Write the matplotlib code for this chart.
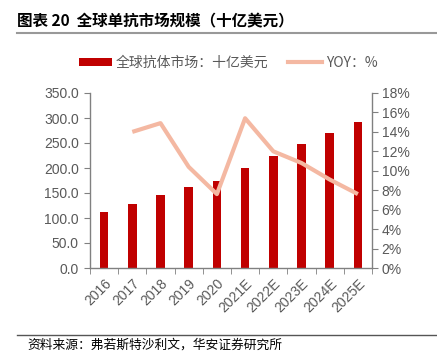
import matplotlib
matplotlib.use("Agg")
import matplotlib.pyplot as plt
from matplotlib.lines import Line2D
from matplotlib.patches import Patch
from matplotlib.ticker import FuncFormatter, MultipleLocator, FixedLocator

plt.rcParams['font.family'] = ['Liberation Sans', 'Noto Sans CJK SC', 'DejaVu Sans']

years = ["2016", "2017", "2018", "2019", "2020", "2021E", "2022E", "2023E", "2024E", "2025E"]
market = [112, 128, 147, 162, 175, 201, 225, 249, 271, 293]
yoy_years = ["2017", "2018", "2019", "2020", "2021E", "2022E", "2023E", "2024E", "2025E"]
yoy = [14.0, 14.9, 10.4, 7.6, 15.4, 12.0, 10.8, 9.1, 7.6]

W, H = 437, 354
fig = plt.figure(figsize=(W / 100, H / 100), dpi=100)

L, R, T, B = 90, 372, 93, 268
ax = fig.add_axes([L / W, 1 - B / H, (R - L) / W, (B - T) / H])
ax2 = ax.twinx()

bar_color = "#C00000"
line_color = "#F4B8A2"
tick_color = "#595959"
spine_color = "#808080"

x = list(range(len(years)))
ax.bar(x, market, width=0.3, color=bar_color, zorder=2)
xi = [years.index(y) for y in yoy_years]
ax2.plot(xi, yoy, color=line_color, lw=3, solid_capstyle='butt', zorder=3)

ax.set_xlim(-0.5, len(years) - 0.5)
ax.set_ylim(0, 350)
ax2.set_ylim(0, 18)
ax.yaxis.set_major_locator(MultipleLocator(50))
ax.yaxis.set_major_formatter(FuncFormatter(lambda v, p: f"{v:.1f}"))
ax2.yaxis.set_major_locator(MultipleLocator(2))
ax2.yaxis.set_major_formatter(FuncFormatter(lambda v, p: f"{v:.0f}%"))

ax.set_xticks(x)
ax.set_xticklabels(years, rotation=45, ha='right', rotation_mode='anchor')
ax.xaxis.set_minor_locator(FixedLocator([i - 0.5 for i in range(len(years) + 1)]))
ax.tick_params(axis='x', which='major', length=0, pad=6, labelsize=10, labelcolor=tick_color)
ax.tick_params(axis='x', which='minor', length=4, color=spine_color, direction='out')
ax.tick_params(axis='y', length=4, color=spine_color, labelsize=10, labelcolor=tick_color, pad=4)
ax2.tick_params(axis='y', length=4, color=spine_color, labelsize=10, labelcolor=tick_color, pad=3)

for a in (ax, ax2):
    a.spines['top'].set_visible(False)
    for s in ('left', 'right', 'bottom'):
        a.spines[s].set_color(spine_color)
        a.spines[s].set_linewidth(1)
ax.spines['right'].set_visible(False)
ax2.spines['left'].set_visible(False)
ax2.spines['bottom'].set_visible(False)

cjk = ['Noto Sans CJK SC', 'DejaVu Sans']
# Title
fig.text(17 / W, 1 - 21 / H, "图表 20  全球单抗市场规模（十亿美元）", family=cjk,
         fontsize=11.2, fontweight='bold', color='black', va='center', ha='left')
fig.add_artist(Line2D([17 / W, 1], [1 - 33 / H, 1 - 33 / H], color='#999999', lw=1.5,
                      transform=fig.transFigure))

# Legend
handles = [Patch(facecolor=bar_color, edgecolor='none'),
           Line2D([0], [0], color=line_color, lw=3)]
leg = fig.legend(handles, ["全球抗体市场：十亿美元", "YOY：%"], loc='center',
                 bbox_to_anchor=(228 / W, 1 - 63 / H), ncol=2, frameon=False,
                 prop={'family': cjk, 'size': 10}, handlelength=2.4, handleheight=0.55,
                 handletextpad=0.3, columnspacing=1.4)
for t in leg.get_texts():
    t.set_color(tick_color)

# Footer
fig.add_artist(Line2D([17 / W, 1], [1 - 335 / H, 1 - 335 / H], color='#555555', lw=1,
                      transform=fig.transFigure))
fig.text(27 / W, 1 - 345 / H, "资料来源：弗若斯特沙利文，华安证券研究所", family=cjk,
         fontsize=9.2, color='black', va='center', ha='left')

fig.savefig("out.png", dpi=100)
